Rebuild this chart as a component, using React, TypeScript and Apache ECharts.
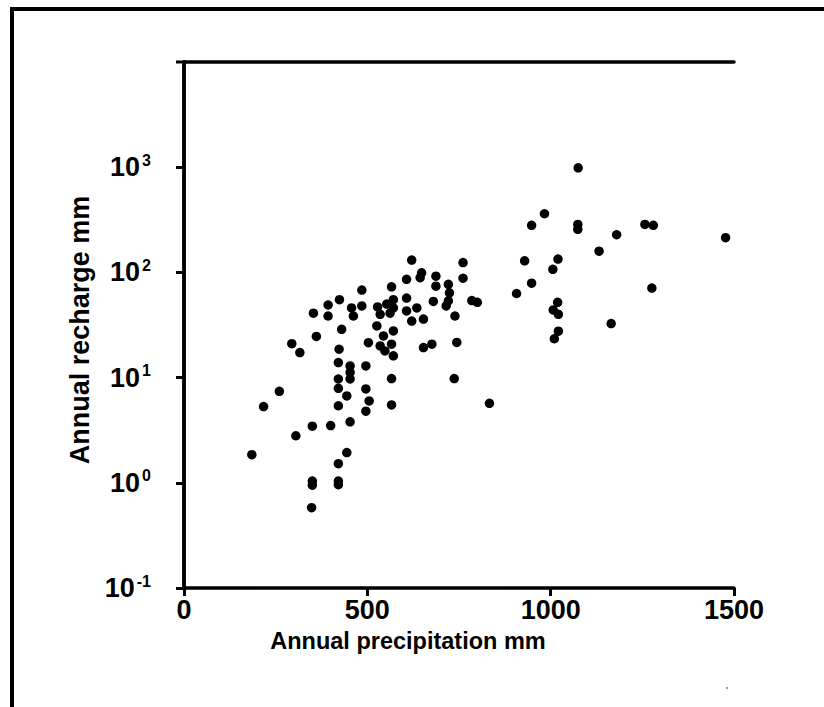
import React, { useEffect, useRef } from "react";
import * as echarts from "echarts";

// Annual precipitation (mm) and annual recharge (mm)
const precipitation = [
  185, 217, 260, 294, 316, 305,
  353, 361, 350, 350, 350, 348,
  393, 393, 424, 430, 423, 421, 421, 421, 421, 400, 421, 421, 421, 444, 444,
  457, 485, 462, 485, 453, 453, 453, 453, 496, 496, 505, 496, 503,
  528, 526, 535, 535, 553, 562, 566, 571, 571, 571, 544, 566, 548, 571, 566, 566,
  607, 621, 648, 644, 607, 607, 635, 621, 653, 687, 687, 680, 653, 676,
  761, 761, 721, 724, 721, 715, 739, 744, 737, 785, 800,
  833, 907, 929, 948, 948, 983, 1006, 1020, 1019, 1007, 1021, 1021, 1010,
  1075, 1074, 1074, 1132, 1165, 1180, 1257, 1280, 1276, 1477,
];
const recharge = [
  1.85, 5.3, 7.4, 21, 17.3, 2.8,
  41, 24.6, 3.45, 1.04, 0.95, 0.58,
  49, 38.5, 55, 28.8, 18.6, 13.9, 9.7, 7.9, 5.4, 3.5, 1.52, 1.04, 0.96, 1.94, 6.7,
  46, 48, 38.5, 68, 12.9, 11.2, 9.7, 3.8, 12.9, 7.8, 6.0, 4.8, 21.5,
  47, 31, 20, 40, 50, 41, 73, 55, 46, 27.8, 24.9, 20.8, 17.9, 16.1, 9.8, 5.5,
  86, 131, 99, 89, 57, 43, 46, 34.5, 36, 92, 74, 53, 19.3, 20.8,
  124, 88, 77, 64, 53.5, 48, 38.5, 21.6, 9.8, 54, 52,
  5.7, 63, 129, 79, 280, 361, 107, 134, 52, 44, 40, 27.6, 23.4,
  986, 286, 257, 159, 32.6, 228, 286, 280, 71, 214,
];

const xTicks = [0, 500, 1000, 1500];
const yMin = 0.1;
const yMax = 10000;
const xTitle = "Annual precipitation mm";
const yTitle = "Annual recharge mm";

const FONT = "'Liberation Sans', Arial, Helvetica, sans-serif";

export default function App() {
  const ref = useRef<HTMLDivElement>(null);

  useEffect(() => {
    if (!ref.current) return;
    const chart = echarts.init(ref.current, null, { renderer: "svg" });
    const points = precipitation.map((p, i) => [p, recharge[i]]);

    const axisLine = { show: true, lineStyle: { color: "#000", width: 3.5 } };

    chart.setOption({
      animation: false,
      backgroundColor: "#fff",
      grid: { left: 184, right: 90, top: 62, bottom: 119, containLabel: false },
      xAxis: [
        {
          type: "value",
          position: "bottom",
          min: xTicks[0],
          max: xTicks[xTicks.length - 1],
          interval: 500,
          splitLine: { show: false },
          axisLine,
          axisTick: { show: true, inside: false, length: 8, lineStyle: { color: "#000", width: 3 } },
          axisLabel: {
            margin: 8,
            color: "#000",
            fontFamily: FONT,
            fontWeight: "bold",
            fontSize: 27,
            formatter: (v: number) => String(v),
          },
        },
        {
          type: "value",
          position: "top",
          min: xTicks[0],
          max: xTicks[xTicks.length - 1],
          splitLine: { show: false },
          axisLine,
          axisTick: { show: false },
          axisLabel: { show: false },
        },
      ],
      yAxis: [
        {
          type: "log",
          logBase: 10,
          position: "left",
          min: yMin,
          max: yMax,
          splitLine: { show: false },
          axisLine,
          axisTick: { show: true, inside: false, length: 8, lineStyle: { color: "#000", width: 3 } },
          axisLabel: {
            margin: 33,
            showMaxLabel: false,
            formatter: (v: number) => {
              const e = Math.round(Math.log10(v));
              if (e >= 4) return "";
              return "{b|10}{s|" + e + "}";
            },
            rich: {
              b: { fontSize: 27, fontWeight: "bold", fontFamily: FONT, color: "#000", lineHeight: 30 },
              s: {
                fontSize: 16,
                fontWeight: "bold",
                fontFamily: FONT,
                color: "#000",
                verticalAlign: "top",
                lineHeight: 16,
                padding: [0, 0, 0, 2],
              },
            },
          },
        },
        {
          type: "log",
          logBase: 10,
          position: "right",
          min: yMin,
          max: yMax,
          splitLine: { show: false },
          axisLine,
          axisTick: { show: false },
          axisLabel: { show: false },
        },
      ],
      series: [
        {
          type: "scatter",
          xAxisIndex: 0,
          yAxisIndex: 0,
          data: points,
          symbol: "circle",
          symbolSize: 9.5,
          itemStyle: { color: "#000", opacity: 1 },
        },
      ],
      graphic: [
        { type: "line", shape: { x1: 10, y1: 9, x2: 824, y2: 9 }, style: { stroke: "#000", lineWidth: 4 } },
        { type: "line", shape: { x1: 12, y1: 7, x2: 12, y2: 707 }, style: { stroke: "#000", lineWidth: 4 } },
        { type: "line", shape: { x1: 176, y1: 62, x2: 186, y2: 62 }, style: { stroke: "#000", lineWidth: 3 } },
        {
          type: "text",
          x: 408,
          y: 641,
          style: {
            text: xTitle,
            fontFamily: FONT,
            fontWeight: "bold",
            fontSize: 23.5,
            fill: "#000",
            align: "center",
            verticalAlign: "middle",
          },
        },
        {
          type: "text",
          x: 80,
          y: 330,
          rotation: Math.PI / 2,
          style: {
            text: yTitle,
            fontFamily: FONT,
            fontWeight: "bold",
            fontSize: 27,
            fill: "#000",
            align: "center",
            verticalAlign: "middle",
          },
        },
        { type: "circle", shape: { cx: 727, cy: 688, r: 1.2 }, style: { fill: "#999" } },
      ],
    });

    return () => chart.dispose();
  }, []);

  return (
    <div
      ref={ref}
      style={{ position: "absolute", left: 0, top: 0, width: 824, height: 707 }}
    />
  );
}
